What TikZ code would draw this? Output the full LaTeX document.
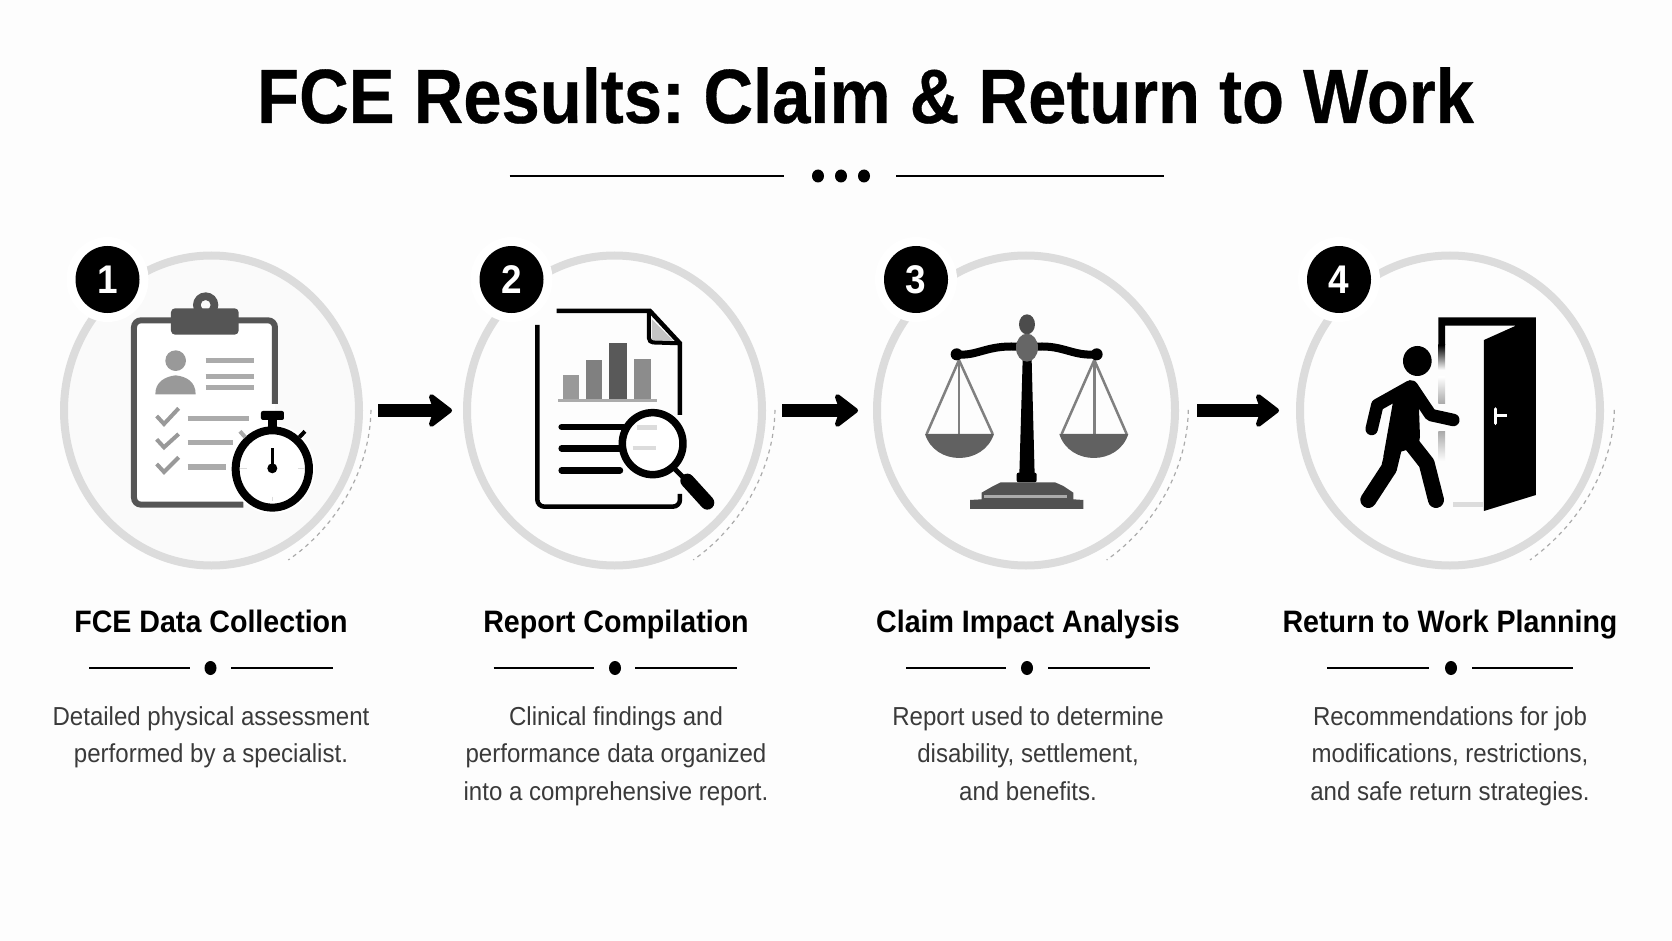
\documentclass[tikz,border=0pt]{standalone}
\usepackage{fontspec}
\setmainfont{Liberation Sans}
\newfontfamily\titlefont[FakeStretch=0.893, FakeBold=0.4]{Liberation Sans}
\newfontfamily\headfont[FakeStretch=0.923]{Liberation Sans}
\newfontfamily\bodyfont[FakeStretch=0.925]{Liberation Sans}
\usetikzlibrary{arrows.meta}
\usetikzlibrary{shapes.geometric}
\definecolor{pagegray}{HTML}{FDFDFD}
\definecolor{ringgray}{HTML}{DCDCDC}
\definecolor{darkgray}{HTML}{555555}
\definecolor{midgray}{HTML}{999999}
\definecolor{linegray}{HTML}{ABABAB}
\definecolor{bodygray}{HTML}{3A3A3A}
\tikzset{
	ring/.style={ellipse, draw=ringgray, line width=8pt, inner sep=0pt, outer sep=0pt, minimum height=310pt, minimum width=#1},
	badge/.style={ellipse, fill=black, text=white, inner sep=0pt, minimum width=64pt, minimum height=67pt, font=\fontsize{40}{40}\selectfont\headfont\bfseries, preaction={draw=white, line width=18pt}},
	steparrow/.style={line width=13pt, -{Stealth[length=27pt, width=41pt, inset=7pt, round]}},
	dotarc/.style={draw=linegray, line width=1.2pt, dash pattern=on 4pt off 4pt},
	rulethin/.style={line width=1.4pt, draw=black},
	headtext/.style={anchor=base, font=\fontsize{31}{31}\selectfont\headfont\bfseries},
	bodytext/.style={anchor=north, align=center, text=bodygray, font=\fontsize{26}{37.5}\selectfont\bodyfont},
	icon/.style={shift={#1}, x=0.3333pt, y=-0.3333pt},
}
\begin{document}
\begin{tikzpicture}[x=1pt, y=-1pt]
	\useasboundingbox (0, 0) rectangle (1672, 941);
	\fill [pagegray] (0, 0) rectangle (1672, 941);

	\node [anchor=base, font=\fontsize{77}{77}\selectfont\titlefont\bfseries] (title) at (865.5, 123) {FCE Results:\kern-7pt{} Claim \& Return to Work};
	\draw [line width=2pt] (509.5, 176) -- (784, 176); % Title rule
	\draw [line width=2pt] (896, 176) -- (1163.5, 176);
	\fill (818, 176) ellipse [x radius=6pt, y radius=6.5pt];
	\fill (841, 176) ellipse [x radius=6pt, y radius=6.5pt];
	\fill (864, 176) ellipse [x radius=6pt, y radius=6.5pt];

	\node [ring=295pt, fill=black!2] (ring1) at (211.5, 410.5) {};
	\node [ring=295pt] (ring2) at (614.5, 410.5) {};
	\node [ring=298pt] (ring3) at (1026, 410.5) {};
	\node [ring=300pt] (ring4) at (1450, 410.5) {};

	\draw [steparrow, shorten <=19pt, shorten >=15pt] (ring1) -- (ring2);
	\draw [steparrow, shorten <=20pt, shorten >=19pt] (ring2) -- (ring3);
	\draw [steparrow, shorten <=22pt, shorten >=21pt] (ring3) -- (ring4);

	\begin{scope}[icon={(40, 230)}] % Clipboard and stopwatch
		\draw [dotarc] (993, 540) .. controls (990, 720) and (890, 890) .. (745, 990);
		\fill [white, rounded corners=5pt] (282, 271) rectangle (705, 824);
		\draw [darkgray, line width=6pt, rounded corners=7pt] (705, 522) -- (705, 271) -- (282, 271) -- (282, 824) -- (610, 824);
		\fill [darkgray, rounded corners=4pt] (393, 235) rectangle (596, 314);
		\fill [darkgray, even odd rule] (497, 225) circle [radius=38] (497, 225) circle [radius=15];
		\fill [midgray] (407, 392) circle [radius=31]; % Person
		\fill [midgray] (346, 493) .. controls (346, 455) and (375, 440) .. (407, 436) .. controls (440, 440) and (467, 455) .. (467, 493) -- cycle;
		\draw [linegray, line width=5pt] (497, 393) -- (641, 393);
		\draw [linegray, line width=4.5pt] (497, 440) -- (641, 440);
		\draw [linegray, line width=4.5pt] (497, 472) -- (641, 472);
		\draw [midgray, line width=4pt] (350, 558) -- (372, 582) -- (416, 535); % Checks
		\draw [midgray, line width=4pt] (350, 628) -- (372, 652) -- (416, 612);
		\draw [midgray, line width=4pt] (350, 702) -- (372, 726) -- (416, 682);
		\draw [linegray, line width=5.5pt] (443, 565) -- (628, 565);
		\draw [linegray, line width=5.5pt] (443, 638) -- (580, 638);
		\draw [linegray, line width=5.5pt] (443, 711) -- (557, 711);
		\fill [white] (697, 717) ellipse [x radius=128, y radius=134]; % Stopwatch
		\draw [black, line width=8pt] (697, 717) ellipse [x radius=110, y radius=116];
		\fill [rounded corners=2pt] (663, 543) rectangle (732, 570);
		\fill (685, 570) rectangle (710, 605);
		\draw [line width=4pt] (778, 622) -- (795, 604);
		\draw [linegray, line width=4pt] (616, 622) -- (600, 604);
		\draw [line width=3pt] (697, 655) -- (697, 715);
		\fill (697, 715) circle [radius=15];
		\draw [ringgray, line width=1.5pt] (600, 715) -- (620, 715);
		\draw [ringgray, line width=1.5pt] (775, 715) -- (795, 715);
		\draw [ringgray, line width=1.5pt] (697, 800) -- (697, 812);
	\end{scope}

	\begin{scope}[icon={(450, 230)}] % Report and magnifier
		\draw [dotarc] (975, 540) .. controls (972, 720) and (872, 890) .. (730, 990);
		\draw [line width=4.5pt, rounded corners=7pt] (262, 285) -- (262, 830) -- (690, 830) -- (690, 792);
		\draw [line width=4.5pt] (690, 555) -- (690, 340) -- (600, 243) -- (320, 243);
		\fill [linegray!70] (606, 268) -- (606, 332) -- (670, 332) -- cycle;
		\draw [line width=4pt, rounded corners=4pt] (597, 243) -- (597, 337) -- (690, 340);
		\draw [linegray, line width=2.5pt] (325, 511) -- (622, 511); % Bars
		\fill [midgray] (340, 435) rectangle (386, 508);
		\fill [black!50] (408, 390) rectangle (455, 508);
		\fill [black!65] (478, 338) rectangle (530, 508);
		\fill [black!45] (553, 388) rectangle (603, 508);
		\draw [line width=6.5pt, line cap=round] (335, 591) -- (520, 591);
		\draw [line width=6.5pt, line cap=round] (335, 655) -- (515, 655);
		\draw [line width=6.5pt, line cap=round] (335, 721) -- (510, 721);
		\draw [line width=7.5pt, fill=white] (608, 641) ellipse [x radius=91, y radius=93]; % Magnifier
		\draw [ringgray, line width=5pt] (560, 592) -- (620, 592);
		\draw [ringgray, line width=4pt] (548, 655) -- (618, 655);
		\draw [line width=5pt] (670, 712) -- (712, 755);
		\draw [line width=14pt, line cap=round] (712, 752) -- (772, 818);
	\end{scope}

	\begin{scope}[icon={(860, 230)}] % Scales
		\draw [dotarc] (985, 540) .. controls (982, 720) and (882, 890) .. (740, 990);
		\draw [black!50, line width=2.5pt] (200, 612) -- (297, 390) -- (398, 612);
		\draw [black!50, line width=2.5pt] (297, 390) -- (297, 612);
		\draw [black!50, line width=2.5pt] (605, 612) -- (703, 390) -- (800, 612);
		\draw [black!50, line width=2.5pt] (703, 390) -- (703, 612);
		\fill [black!62] (195, 612) .. controls (225, 708) and (370, 708) .. (402, 612) -- cycle;
		\fill [black!62] (598, 612) .. controls (628, 708) and (775, 708) .. (805, 612) -- cycle;
		\draw [line width=8pt] (290, 373) .. controls (350, 380) and (380, 345) .. (470, 350);
		\draw [line width=8pt] (532, 350) .. controls (610, 345) and (640, 380) .. (710, 373);
		\fill (290, 373) circle [radius=18];
		\fill (710, 373) circle [radius=18];
		\fill (488, 390) -- (515, 390) -- (524, 735) -- (478, 735) -- cycle;
		\fill [rounded corners=2pt] (470, 728) rectangle (530, 757);
		\fill [black!70] (501, 283) ellipse [x radius=24, y radius=30];
		\fill [black!60] (501, 353) ellipse [x radius=33, y radius=42];
		\fill [black!68] (400, 768) -- (422, 757) -- (585, 757) -- (610, 768) -- (640, 788) -- (640, 808) -- (670, 810) -- (670, 837) -- (330, 837) -- (330, 810) -- (365, 808) -- (365, 788) -- cycle;
		\fill [linegray] (372, 796) rectangle (622, 805);
	\end{scope}

	\begin{scope}[icon={(1270, 230)}] % Person and door
		\draw [dotarc] (1033, 540) .. controls (1030, 720) and (920, 890) .. (780, 990);
		\fill (505, 262) -- (798, 262) -- (798, 795) -- (642, 843) -- (642, 330) -- (738, 287) -- (525, 287) -- (525, 345) -- (505, 345) -- cycle;
		\shade [top color=black, bottom color=white] (505, 345) rectangle (525, 420);
		\shade [top color=white, bottom color=linegray] (505, 440) rectangle (525, 520);
		\shade [top color=linegray, bottom color=white] (505, 605) rectangle (525, 695);
		\fill [ringgray] (550, 815) rectangle (642, 830);
		\draw [white, line width=3.5pt, line cap=round] (676, 537) -- (676, 580);
		\draw [white, line width=3pt] (676, 556) -- (712, 556);
		\fill (442, 393) ellipse [x radius=43, y radius=45];
		\fill (370, 510) -- (420, 450) -- (445, 480) -- (450, 620) -- (445, 650) -- (340, 680) -- cycle;
		\draw [line width=12.5pt, line cap=round, line join=round] (420, 470) -- (322, 525) -- (305, 597);
		\draw [line width=12.5pt, line cap=round, line join=round] (425, 470) -- (482, 555) -- (550, 570);
		\draw [line width=16pt, line cap=round, line join=round] (375, 640) -- (357, 715) -- (295, 810);
		\draw [line width=16pt, line cap=round, line join=round] (415, 630) -- (470, 700) -- (498, 810);
	\end{scope}

	\node [badge] (badge1) at (107.5, 279.5) {1};
	\node [badge] (badge2) at (511.5, 279.5) {2};
	\node [badge] (badge3) at (916, 279.5) {3};
	\node [badge] (badge4) at (1339, 279.5) {4};

	\node [headtext] (head1) at (211, 632) {FCE Data Collection};
	\node [headtext] (head2) at (616, 632) {Report Compilation};
	\node [headtext] (head3) at (1028, 632) {Claim Impact Analysis};
	\node [headtext] (head4) at (1450, 632) {Return to Work Planning};

	\draw [rulethin] (89, 668) -- (189.5, 668); % Rules under the headings
	\draw [rulethin] (231, 668) -- (333, 668);
	\fill (210.5, 668) ellipse [x radius=6pt, y radius=7pt];
	\draw [rulethin] (493.5, 668) -- (594, 668);
	\draw [rulethin] (635, 668) -- (737, 668);
	\fill (615, 668) ellipse [x radius=6pt, y radius=7pt];
	\draw [rulethin] (906, 668) -- (1006, 668);
	\draw [rulethin] (1048, 668) -- (1150, 668);
	\fill (1027, 668) ellipse [x radius=6pt, y radius=7pt];
	\draw [rulethin] (1327, 668) -- (1429, 668);
	\draw [rulethin] (1472, 668) -- (1573, 668);
	\fill (1451, 668) ellipse [x radius=6pt, y radius=7pt];

	\node [bodytext] (body1) at (211, 703) {Detailed physical assessment\\performed by a specialist.};
	\node [bodytext] (body2) at (616, 703) {Clinical findings and\\performance data organized\\into a comprehensive report.};
	\node [bodytext] (body3) at (1028, 703) {Report used to determine\\disability, settlement,\\and benefits.};
	\node [bodytext] (body4) at (1450, 703) {Recommendations for job\\modifications, restrictions,\\and safe return strategies.};
\end{tikzpicture}
\end{document}
